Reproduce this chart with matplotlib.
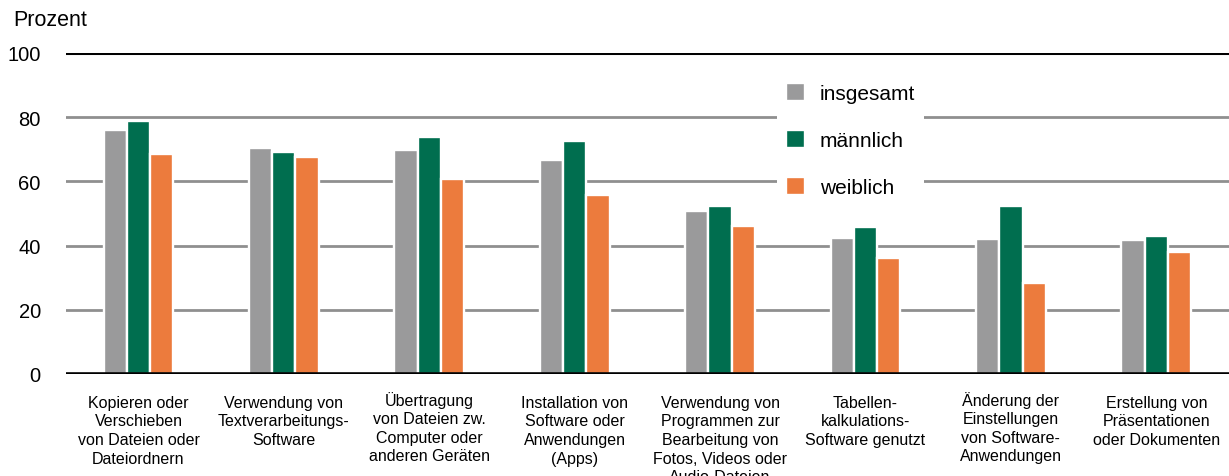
import numpy as np
import matplotlib.pyplot as plt
import matplotlib.transforms as mtransforms

plt.rcParams['font.family'] = ['Liberation Sans', 'DejaVu Sans']

categories = [
    "Kopieren oder\nVerschieben\nvon Dateien oder\nDateiordnern",
    "Verwendung von\nTextverarbeitungs-\nSoftware",
    "Übertragung\nvon Dateien zw.\nComputer oder\nanderen Geräten",
    "Installation von\nSoftware oder\nAnwendungen\n(Apps)",
    "Verwendung von\nProgrammen zur\nBearbeitung von\nFotos, Videos oder\nAudio-Dateien",
    "Tabellen-\nkalkulations-\nSoftware genutzt",
    "Änderung der\nEinstellungen\nvon Software-\nAnwendungen",
    "Erstellung von\nPräsentationen\noder Dokumenten",
]
insgesamt = [75.9, 70.4, 69.6, 66.6, 50.6, 42.3, 42.0, 41.8]
maennlich = [78.8, 69.0, 73.8, 72.7, 52.2, 45.8, 52.2, 43.0]
weiblich = [68.6, 67.6, 60.8, 55.7, 46.0, 36.1, 28.3, 38.0]
series_labels = ["insgesamt", "männlich", "weiblich"]
colors = ["#9a9a9b", "#006e4f", "#ec7b3d"]
yticks = [0, 20, 40, 60, 80, 100]

fig = plt.figure(figsize=(12.29, 4.77), dpi=100)
ax = fig.add_axes([0.0535, 0.214, 0.9465, 0.673])

x = np.arange(len(categories))
w = 0.16
for i, (vals, lab, col) in enumerate(zip([insgesamt, maennlich, weiblich], series_labels, colors)):
    ax.bar(x + (i - 1) * w, vals, width=w, color=col, edgecolor='white',
           linewidth=1.7, label=lab, zorder=3)

# grid lines (gray), top line black
for yv in yticks[1:-1]:
    ax.axhline(yv, color='#8f8f8f', linewidth=2.0, zorder=1)
ax.axhline(100, color='black', linewidth=2.2, zorder=1)
ax.axhline(0, color='black', linewidth=2.6, zorder=4)

ax.set_xlim(-0.5, len(categories) - 0.5)
ax.set_ylim(0, 100)
ax.set_yticks(yticks)
ax.set_yticklabels([str(v) for v in yticks], fontsize=14.5)
ax.set_xticks(x)
ax.set_xticklabels([])
ax.tick_params(axis='y', length=0, pad=18)
ax.tick_params(axis='x', length=0)
for s in ax.spines.values():
    s.set_visible(False)

# category labels; first line baselines kept level (umlauts make the box taller)
base = ax.get_xaxis_transform()
for xi, cat in zip(x, categories):
    dy = -15 + (3 if cat[0] in "ÄÖÜ" else 0)
    tr = base + mtransforms.ScaledTranslation(0, dy / 72, fig.dpi_scale_trans)
    ax.text(xi, 0, cat, transform=tr, ha='center', va='top',
            fontsize=11.5, linespacing=1.3, clip_on=False)

fig.text(13 / 1229, 1 - 20 / 477, "Prozent", fontsize=15.5, va='center', ha='left')

leg = ax.legend(loc='upper left', bbox_to_anchor=(777 / 1229, 1 - 75 / 477),
                bbox_transform=fig.transFigure, fontsize=15, frameon=True,
                facecolor='white', edgecolor='none', framealpha=1,
                handlelength=0.9, handleheight=0.9, handletextpad=0.7,
                labelspacing=1.3, borderpad=0.45, borderaxespad=0)
leg.get_frame().set_linewidth(0)
leg.set_zorder(5)

fig.savefig("out.png", dpi=100)
